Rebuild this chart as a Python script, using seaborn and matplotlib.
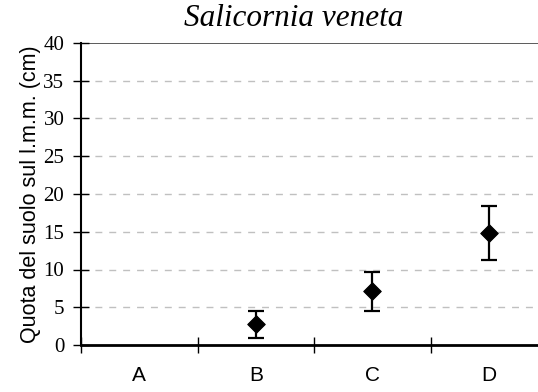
import numpy as np
import pandas as pd
import seaborn as sns
import matplotlib.pyplot as plt

# data
categories = ['A', 'B', 'C', 'D']
mean_vals = [np.nan, 2.8, 7.1, 14.9]
err_low = [np.nan, 1.9, 2.6, 3.6]
err_high = [np.nan, 1.7, 2.6, 3.5]
y_ticks = [0, 5, 10, 15, 20, 25, 30, 35, 40]

df = pd.DataFrame({'cat': categories, 'val': mean_vals,
                   'lo': err_low, 'hi': err_high})
df['x'] = np.arange(len(categories))

sns.set_style('white', {'xtick.bottom': True, 'ytick.left': True,
                        'text.color': 'black', 'xtick.color': 'black',
                        'ytick.color': 'black', 'axes.labelcolor': 'black'})
plt.rcParams['font.family'] = ['Liberation Serif']

fig = plt.figure(figsize=(5.38, 3.92), dpi=100)
ax = fig.add_axes([81/538, 1 - 345/392, 1 - 81/538, (345 - 43)/392])

# grid
for t in y_ticks[1:-1]:
    ax.axhline(t, color='#c0c0c0', lw=1, ls=(0, (5, 5)), zorder=0)
ax.axhline(40, color='#404040', lw=1.2, zorder=0)

# error bars + markers
ax.errorbar(df['x'], df['val'], yerr=[df['lo'], df['hi']], fmt='none',
            ecolor='black', elinewidth=1.6, capsize=6, capthick=1.6, zorder=2)
sns.scatterplot(ax=ax, data=df, x='x', y='val', marker='D', s=80,
                color='black', edgecolor='black', zorder=3, legend=False)

# axes format
ax.set_xlim(-0.5, 3.42)
ax.set_ylim(0, 40)
ax.set_yticks(y_ticks)
ax.set_yticklabels([str(t) for t in y_ticks], fontsize=15)
ax.set_xticks(np.arange(-0.5, 3.5, 1))
ax.set_xticklabels([])
ax.set_xticks(df['x'], minor=True)
ax.set_xticklabels(categories, minor=True, fontfamily='Liberation Sans', fontsize=15)
ax.tick_params(axis='x', which='major', direction='inout', length=12, width=1, color='black')
ax.tick_params(axis='x', which='minor', length=0, pad=15)
ax.tick_params(axis='y', direction='inout', length=12, width=1, color='black', pad=6)
ax.set_xlabel('')
ax.set_ylabel('Quota del suolo sul l.m.m. (cm)', fontfamily='Liberation Sans',
              fontsize=15.5, labelpad=2, color='black')

for s in ['top', 'right']:
    ax.spines[s].set_visible(False)
ax.spines['left'].set_linewidth(1.5)
ax.spines['left'].set_color('black')
ax.spines['bottom'].set_linewidth(2)
ax.spines['bottom'].set_color('black')

fig.text(294/538, 1 - 18/392, 'Salicornia veneta',
         style='italic', fontsize=22.5, ha='center', va='center', color='black')

fig.savefig('out.png', dpi=100)
